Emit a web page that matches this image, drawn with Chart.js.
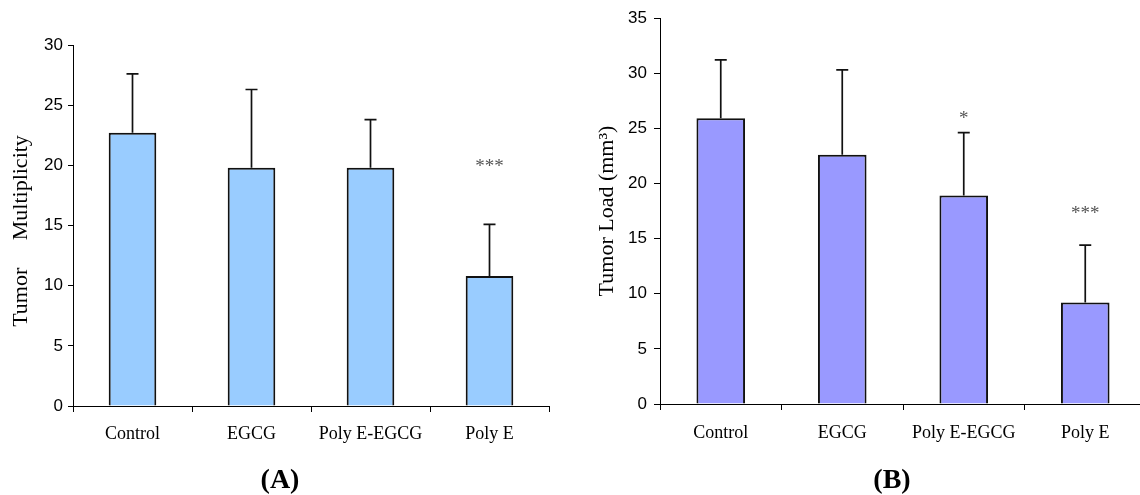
<!DOCTYPE html>
<html><head><meta charset="utf-8">
<script src="https://cdn.jsdelivr.net/npm/chart.js@4/dist/chart.umd.min.js"></script>
<style>
html,body{margin:0;padding:0;width:1140px;height:495px;overflow:hidden;background:#fff;}
.panel{position:absolute;font:bold 28px "Liberation Serif","Times New Roman",serif;color:#000;transform:translate(-50%,-50%);white-space:nowrap;line-height:1;}
</style></head><body>
<canvas id="cA" width="560" height="495" style="position:absolute;left:0;top:0"></canvas>
<canvas id="cB" width="590" height="495" style="position:absolute;left:560px;top:0"></canvas>
<div class="panel" style="left:280px;top:479px">(A)</div>
<div class="panel" style="left:892px;top:479px">(B)</div>
<script>
const categories = ['Control', 'EGCG', 'Poly E-EGCG', 'Poly E'];

const multiplicity = [22.7, 19.8, 19.8, 10.8];
const multiplicitySD = [4.9, 6.5, 4.0, 4.3];
const multiplicitySig = ['', '', '', '***'];
const multiplicitySigLevel = [null, null, null, 20.1];
const multiplicityTicks = [0, 5, 10, 15, 20, 25, 30];

const tumorLoad = [25.9, 22.6, 18.9, 9.2];
const tumorLoadSD = [5.3, 7.7, 5.7, 5.2];
const tumorLoadSig = ['', '', '*', '***'];
const tumorLoadSigLevel = [null, null, 26.1, 17.5];
const tumorLoadTicks = [0, 5, 10, 15, 20, 25, 30, 35];

function errPlugin(sd, sig, sigLevel) {
  return {
    id: 'errbars',
    afterDatasetsDraw(chart) {
      const ctx = chart.ctx;
      const meta = chart.getDatasetMeta(0);
      const ys = chart.scales.y;
      const vals = chart.data.datasets[0].data;
      ctx.save();
      ctx.strokeStyle = '#111';
      ctx.lineWidth = 1.7;
      meta.data.forEach((bar, i) => {
        const x = bar.x;
        const top = ys.getPixelForValue(vals[i] + sd[i]);
        ctx.beginPath();
        ctx.moveTo(x, bar.y);
        ctx.lineTo(x, top);
        ctx.moveTo(x - 6, top);
        ctx.lineTo(x + 6, top);
        ctx.stroke();
      });
      ctx.fillStyle = '#555';
      ctx.font = '19px "Liberation Serif", serif';
      ctx.textAlign = 'center';
      ctx.textBaseline = 'middle';
      meta.data.forEach((bar, i) => {
        if (sig[i]) ctx.fillText(sig[i], bar.x, ys.getPixelForValue(sigLevel[i]) + 3);
      });
      ctx.restore();
    }
  };
}

function makeChart(id, values, sd, sig, sigLevel, ticks, color, yTitle, opts) {
  return new Chart(document.getElementById(id), {
    type: 'bar',
    data: {
      labels: categories,
      datasets: [{
        data: values,
        backgroundColor: color,
        borderColor: '#111',
        borderWidth: 2,
        barPercentage: 0.4,
        categoryPercentage: 1.0
      }]
    },
    options: {
      responsive: false,
      animation: false,
      devicePixelRatio: 1,
      layout: { padding: opts.padding },
      plugins: { legend: { display: false }, tooltip: { enabled: false } },
      scales: {
        x: {
          type: 'category',
          offset: true,
          grid: { display: true, drawOnChartArea: false, drawTicks: true, tickLength: 6, color: '#000', offset: true, lineWidth: 1 },
          border: { display: true, color: '#000', width: 1 },
          ticks: { color: '#000', font: { family: '"Liberation Serif", serif', size: 18 }, padding: opts.xPad, maxRotation: 0, autoSkip: false },
          afterFit(s) { s.height = opts.xHeight; }
        },
        y: {
          min: ticks[0],
          max: ticks[ticks.length - 1],
          afterBuildTicks(s) { s.ticks = ticks.map(v => ({ value: v })); },
          grid: { drawOnChartArea: false, drawTicks: true, tickLength: opts.yTick, color: '#000', lineWidth: 1 },
          border: { display: true, color: '#000', width: 1 },
          ticks: { color: '#000', font: { family: '"Liberation Sans", Arial, sans-serif', size: 17 }, padding: opts.yPad },
          title: { display: true, text: yTitle, color: '#000', font: { family: '"Liberation Serif", serif', size: 22 }, padding: { top: opts.titlePad, bottom: 0 } },
          afterFit(s) { s.width = opts.yWidth; }
        }
      }
    },
    plugins: [errPlugin(sd, sig, sigLevel)]
  });
}

makeChart('cA', multiplicity, multiplicitySD, multiplicitySig, multiplicitySigLevel, multiplicityTicks,
  '#99CCFF', 'Tumor\u00a0\u00a0\u00a0\u00a0\u00a0Multiplicity\u00a0\u00a0',
  { padding: { top: 45, right: 11, left: 0, bottom: 0 }, xHeight: 89, yWidth: 73, xPad: 11, yTick: 5, yPad: 5, titlePad: 8 });

makeChart('cB', tumorLoad, tumorLoadSD, tumorLoadSig, tumorLoadSigLevel, tumorLoadTicks,
  '#9999FF', 'Tumor Load (mm\u00b3)',
  { padding: { top: 18, right: 4, left: 0, bottom: 0 }, xHeight: 91, yWidth: 100, xPad: 12, yTick: 6, yPad: 7, titlePad: 34 });
</script>
</body></html>
